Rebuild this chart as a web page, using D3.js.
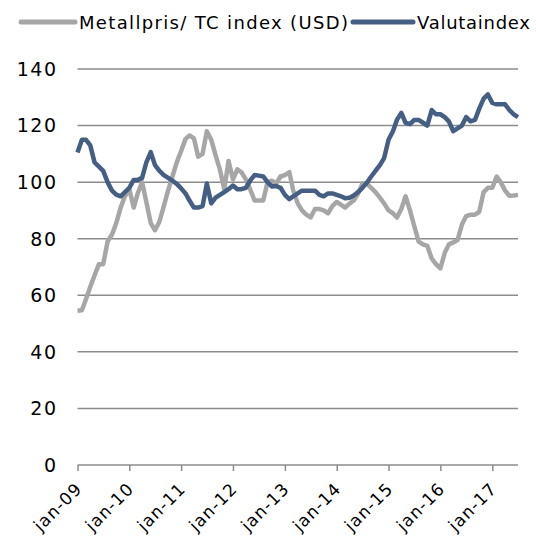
<!DOCTYPE html>
<html>
<head>
<meta charset="utf-8">
<script src="https://cdn.jsdelivr.net/npm/d3@7"></script>
<style>
  body { margin: 0; background: #fff; }
  svg text { font-family: "DejaVu Sans", sans-serif; fill: #000; }
</style>
</head>
<body>
<div class="chart"></div>
<script>
// monthly series, starting jan-09
const startMonth = new Date(2009, 0, 1);

const metallpris = [
  54.5, 54.7, 58.5, 63, 67, 71, 71, 79, 81.5, 85.5, 91, 95,
  97.5, 91, 96, 100, 93, 85.5, 83, 86, 91.5, 97, 102, 107,
  111, 115.3, 116.5, 115.5, 109, 110, 118, 115, 109.5, 104.5, 97.5, 107.5,
  101, 104.5, 103.5, 101, 97.5, 93.5, 93.5, 93.5, 100, 100.5, 99.5, 102,
  102.5, 103.5, 97, 92.5, 90, 88.5, 87.5, 90.5, 90.5, 90, 89, 91.5,
  93, 92, 91, 92.4, 93.5, 96, 99.5, 99.5, 98, 96.5, 94.5, 92.5,
  90, 89, 87.5, 90.5, 95, 90, 84.5, 79, 78, 77.5, 73, 71,
  69.5, 75, 78, 78.7, 79.5, 85, 88, 88.5, 88.5, 89.5, 96.5, 98,
  98, 102, 100, 97, 95.2, 95.3, 95.5
];

const valutaindex = [
  110.5, 115, 115, 113, 107, 105.5, 104, 100, 97, 95.6, 95, 96.5,
  98, 100.8, 100.8, 101.5, 107, 110.6, 106, 104, 102.5, 101.5, 100.5, 99.4,
  97.8, 96, 93.5, 91, 91, 91.5, 99.5, 92.5, 94.5, 95.5, 96.5, 97.5,
  98.8, 97.5, 97.5, 98, 100.5, 102.5, 102.3, 102, 100, 98.5, 98.6, 98,
  95.5, 94, 95, 96, 97, 97, 97, 97, 95.5, 95, 96, 96,
  95.5, 95, 94.3, 94.5, 95.3, 96.5, 98, 99.8, 102, 104, 106, 108.5,
  115, 118, 122, 124.5, 121, 120.5, 122, 122, 121, 120, 125.5, 124,
  124, 123, 121.5, 118, 119, 120, 123, 121.5, 122, 126, 129.5, 131,
  128, 127.5, 127.5, 127.5, 125.5, 124, 123
];

const seriesNames = ['Metallpris/ TC index (USD)', 'Valutaindex'];
const yTicks = [0, 20, 40, 60, 80, 100, 120, 140];
const tickYears = d3.range(2009, 2018);

const months = metallpris.map((d, i) => d3.timeMonth.offset(startMonth, i));

const outerWidth = 536, outerHeight = 540;
const margin = {top: 69, right: 18, bottom: 75, left: 77.5};
const width = outerWidth - margin.left - margin.right;
const height = outerHeight - margin.top - margin.bottom;

const svg = d3.select('.chart').append('svg')
    .attr('width', outerWidth)
    .attr('height', outerHeight);

const g = svg.append('g')
    .attr('transform', 'translate(' + margin.left + ',' + margin.top + ')');

const x = d3.scaleTime()
    .domain([months[0], months[months.length - 1]])
    .range([0, width]);

const y = d3.scaleLinear()
    .domain([0, 140])
    .range([height, 0]);

// gridlines
g.append('g')
    .selectAll('line')
    .data(yTicks.slice(1))
    .join('line')
    .attr('x1', 0)
    .attr('x2', width)
    .attr('y1', d => y(d))
    .attr('y2', d => y(d))
    .attr('stroke', '#8c8c8c')
    .attr('stroke-width', 1.5);

// y labels
g.append('g')
    .selectAll('text')
    .data(yTicks)
    .join('text')
    .attr('x', -20)
    .attr('y', d => y(d))
    .attr('dy', '0.36em')
    .attr('text-anchor', 'end')
    .style('font-size', '19px')
    .style('letter-spacing', '1.5px')
    .text(d => d);

// x axis
const xAxis = g.append('g')
    .attr('transform', 'translate(0,' + height + ')')
    .call(d3.axisBottom(x)
        .tickValues(tickYears.map(yr => new Date(yr, 0, 1)))
        .tickSize(6)
        .tickFormat(d => 'jan-' + d3.timeFormat('%y')(d)));

xAxis.select('.domain')
    .attr('stroke', '#8c8c8c')
    .attr('stroke-width', 1.5)
    .attr('d', 'M0,0H' + width);
xAxis.selectAll('.tick line')
    .attr('stroke', '#8c8c8c')
    .attr('stroke-width', 1.5);
xAxis.selectAll('.tick text')
    .style('font-size', '17px')
    .style('letter-spacing', '1px')
    .style('font-family', '"DejaVu Sans", sans-serif')
    .attr('fill', '#000')
    .attr('text-anchor', 'end')
    .attr('x', 0)
    .attr('y', 0)
    .attr('dy', 0)
    .attr('transform', 'translate(5,25) rotate(-45)');

const line = d3.line()
    .x((d, i) => x(months[i]))
    .y(d => y(d));

g.append('path')
    .datum(metallpris)
    .attr('fill', 'none')
    .attr('stroke', '#a6a6a6')
    .attr('stroke-width', 4.5)
    .attr('stroke-linejoin', 'round')
    .attr('d', line);

g.append('path')
    .datum(valutaindex)
    .attr('fill', 'none')
    .attr('stroke', '#445e84')
    .attr('stroke-width', 4.5)
    .attr('stroke-linejoin', 'round')
    .attr('d', line);

// legend
const legend = svg.append('g');
const legendItems = [
  {name: seriesNames[0], color: '#a6a6a6', x: 21, len: 54, textLen: 269},
  {name: seriesNames[1], color: '#445e84', x: 353, len: 60, textLen: 113}
];
legendItems.forEach(item => {
  legend.append('line')
      .attr('x1', item.x).attr('x2', item.x + item.len)
      .attr('y1', 22).attr('y2', 22)
      .attr('stroke', item.color)
      .attr('stroke-width', 5)
      .attr('stroke-linecap', 'round');
  legend.append('text')
      .attr('x', item.x + item.len + 4)
      .attr('y', 29)
      .attr('textLength', item.textLen)
      .attr('lengthAdjust', 'spacing')
      .style('font-size', '18px')
      .text(item.name);
});
</script>
</body>
</html>
